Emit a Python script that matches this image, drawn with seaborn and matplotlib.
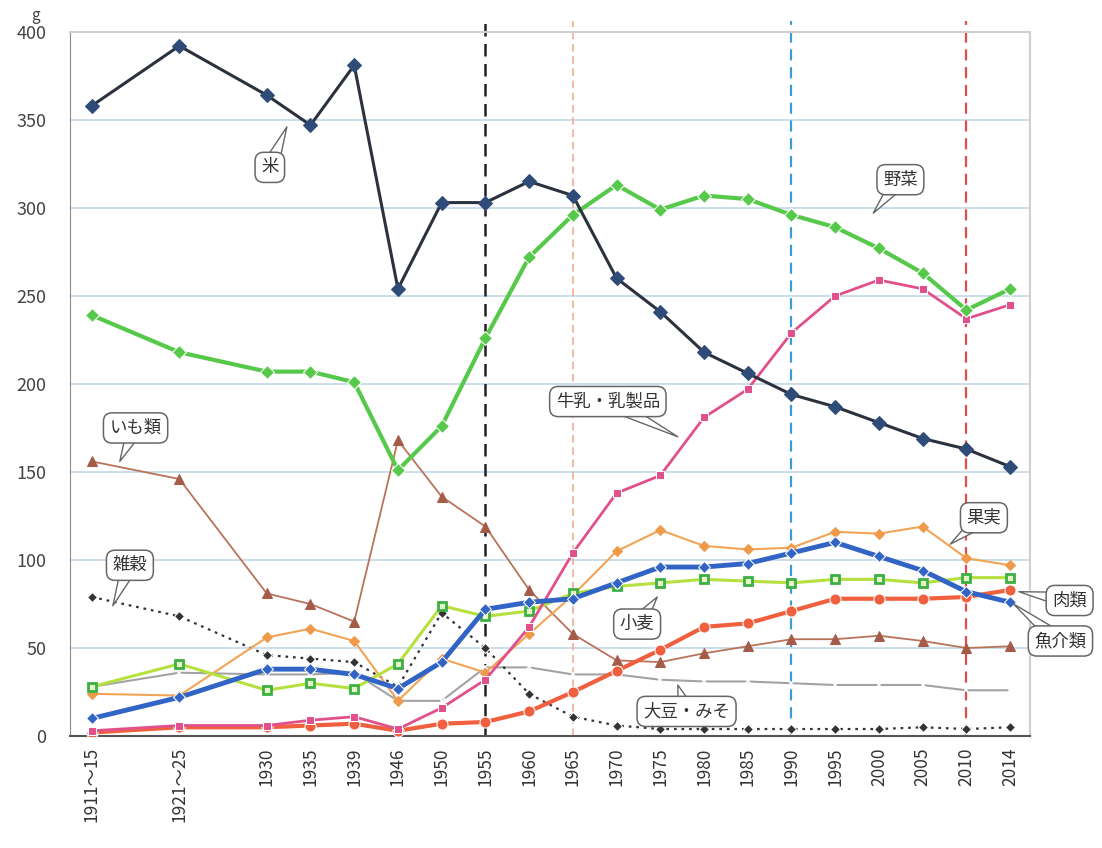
import matplotlib
matplotlib.use("Agg")
import matplotlib.pyplot as plt
import seaborn as sns
import numpy as np

# Survey periods (x-axis categories)
periods = ["1911～15", "1921～25", "1930", "1935", "1939", "1946", "1950",
           "1955", "1960", "1965", "1970", "1975", "1980", "1985", "1990",
           "1995", "2000", "2005", "2010", "2014"]

# Daily intake per person (g)
rice    = [358, 392, 364, 347, 381, 254, 303, 303, 315, 307, 260, 241, 218, 206, 194, 187, 178, 169, 163, 153]
veg     = [239, 218, 207, 207, 201, 151, 176, 226, 272, 296, 313, 299, 307, 305, 296, 289, 277, 263, 242, 254]
milk    = [3, 6, 6, 9, 11, 4, 16, 32, 62, 104, 138, 148, 181, 197, 229, 250, 259, 254, 237, 245]
imo     = [156, 146, 81, 75, 65, 168, 136, 119, 83, 58, 43, 42, 47, 51, 55, 55, 57, 54, 50, 51]
fruit   = [24, 23, 56, 61, 54, 20, 44, 36, 58, 80, 105, 117, 108, 106, 107, 116, 115, 119, 101, 97]
wheat   = [28, 41, 26, 30, 27, 41, 74, 68, 71, 81, 85, 87, 89, 88, 87, 89, 89, 87, 90, 90]
fish    = [10, 22, 38, 38, 35, 27, 42, 72, 76, 78, 87, 96, 96, 98, 104, 110, 102, 94, 82, 76]
meat    = [2, 5, 5, 6, 7, 3, 7, 8, 14, 25, 37, 49, 62, 64, 71, 78, 78, 78, 79, 83]
soy     = [28, 36, 35, 35, 36, 20, 20, 39, 39, 35, 35, 32, 31, 31, 30, 29, 29, 29, 26, 26]
zakkoku = [79, 68, 46, 44, 42, 28, 70, 50, 24, 11, 6, 4, 4, 4, 4, 4, 4, 5, 4, 5]

# Periods marked with vertical reference lines
marked = ["1955", "1965", "1990", "2010"]

# Category slots: the two early ranges are spaced two slots apart
slot = np.array([0, 2] + list(range(4, 22)), dtype=float)
pos = dict(zip(periods, slot))

sns.set_style("white")
plt.rcParams["font.family"] = ["Noto Sans CJK JP", "DejaVu Sans"]

fig = plt.figure(figsize=(11.02, 8.48), dpi=100)
ax = fig.add_axes([0.0635, 0.132, 0.871, 0.8305])
ax.set_xlim(-0.5, 21.45)
ax.set_ylim(0, 400)

# horizontal grid
for v in range(50, 401, 50):
    ax.axhline(v, color="#c6dbe8", lw=1.3, zorder=0)

# reference lines
vstyles = {"1955": ("#222222", 1.8), "1965": ("#f2a68a", 1.1),
           "1990": ("#3d9bd6", 1.6), "2010": ("#df4d4d", 1.6)}
for p in marked:
    c, w = vstyles[p]
    ax.plot([pos[p], pos[p]], [0, 1.015], transform=ax.get_xaxis_transform(),
            color=c, lw=w, ls=(0, (5, 3)), clip_on=False, zorder=1)

series = [
    (soy,     dict(color="#a3a3a3", lw=1.5, marker="x", ms=5, mew=1.1)),
    (zakkoku, dict(color="#333333", lw=1.6, ls=(0, (1.2, 2.2)), marker="D", ms=5)),
    (imo,     dict(color="#b8735a", lw=1.3, marker="^", ms=7, mfc="#a45c48", mec="#a45c48")),
    (fruit,   dict(color="#f2a456", lw=1.5, marker="D", ms=5, mfc="#ee9a4a", mec="#ee9a4a")),
    (wheat,   dict(color="#b6e03e", lw=2.2, marker="s", ms=6, mfc="#e6f4c8", mec="#3cb043", mew=2)),
    (meat,    dict(color="#f0603e", lw=3.0, marker="o", ms=8)),
    (milk,    dict(color="#e2508c", lw=2.0, marker="s", ms=6)),
    (fish,    dict(color="#3264c6", lw=3.5, marker="D", ms=6)),
    (veg,     dict(color="#56c94a", lw=3.0, marker="D", ms=7)),
    (rice,    dict(color="#2b323d", lw=2.2, marker="D", ms=7, mfc="#2f4c78", mec="#2f4c78")),
]
for z, (vals, kw) in enumerate(series):
    sns.lineplot(x=slot, y=vals, ax=ax, sort=False, zorder=3 + z, **kw)

# axes styling
for side in ("top", "right"):
    ax.spines[side].set_color("#cfcfcf")
    ax.spines[side].set_linewidth(1.5)
ax.spines["left"].set_color("#8a8a8a")
ax.spines["bottom"].set_color("#555555")
ax.spines["bottom"].set_linewidth(1.5)

ax.set_yticks(range(0, 401, 50))
ax.tick_params(axis="y", direction="out", length=3, pad=14, labelsize=13,
               labelcolor="#444444", color="#888888")
ax.set_xticks(slot)
ax.set_xticklabels(periods, rotation=90, fontsize=12.5, color="#333333")
ax.tick_params(axis="x", which="major", length=0, pad=8)
ax.set_xticks(np.arange(0.5, 21, 1.0), minor=True)
ax.tick_params(axis="x", which="minor", direction="in", length=5, color="#444444")
ax.set_xlabel("")
ax.set_ylabel("")

fig.text(0.032, 0.982, "g", fontsize=11, color="#444444", ha="center", va="center")

# callout labels with speech-bubble tails
callouts = [
    ("米",            (4.46, 346), (4.07, 323)),
    ("野菜",          (17.87, 297), (18.49, 316)),
    ("牛乳・乳製品",   (13.4, 170), (11.8, 190)),
    ("いも類",        (0.64, 156), (1.0, 175)),
    ("雑穀",          (0.48, 74), (0.87, 97)),
    ("果実",          (19.63, 109), (20.4, 124)),
    ("小麦",          (12.93, 79), (12.47, 63.6)),
    ("大豆・みそ",     (13.4, 29), (13.6, 14)),
    ("肉類",          (21.2, 82), (22.36, 77)),
    ("魚介類",        (21.08, 75), (22.15, 54)),
]
for text, tip, center in callouts:
    ax.annotate(text, xy=tip, xytext=center, ha="center", va="center",
                fontsize=12.5, color="#333333", annotation_clip=False, zorder=20,
                bbox=dict(boxstyle="round,pad=0.35,rounding_size=0.5", fc="white",
                          ec="#666666", lw=1.1),
                arrowprops=dict(arrowstyle="wedge,tail_width=0.9,shrink_factor=0.5",
                                fc="white", ec="#666666", lw=1.0,
                                patchA=None, relpos=(0.5, 0.5), shrinkB=0))

fig.savefig("out.png", dpi=100, facecolor="white")
